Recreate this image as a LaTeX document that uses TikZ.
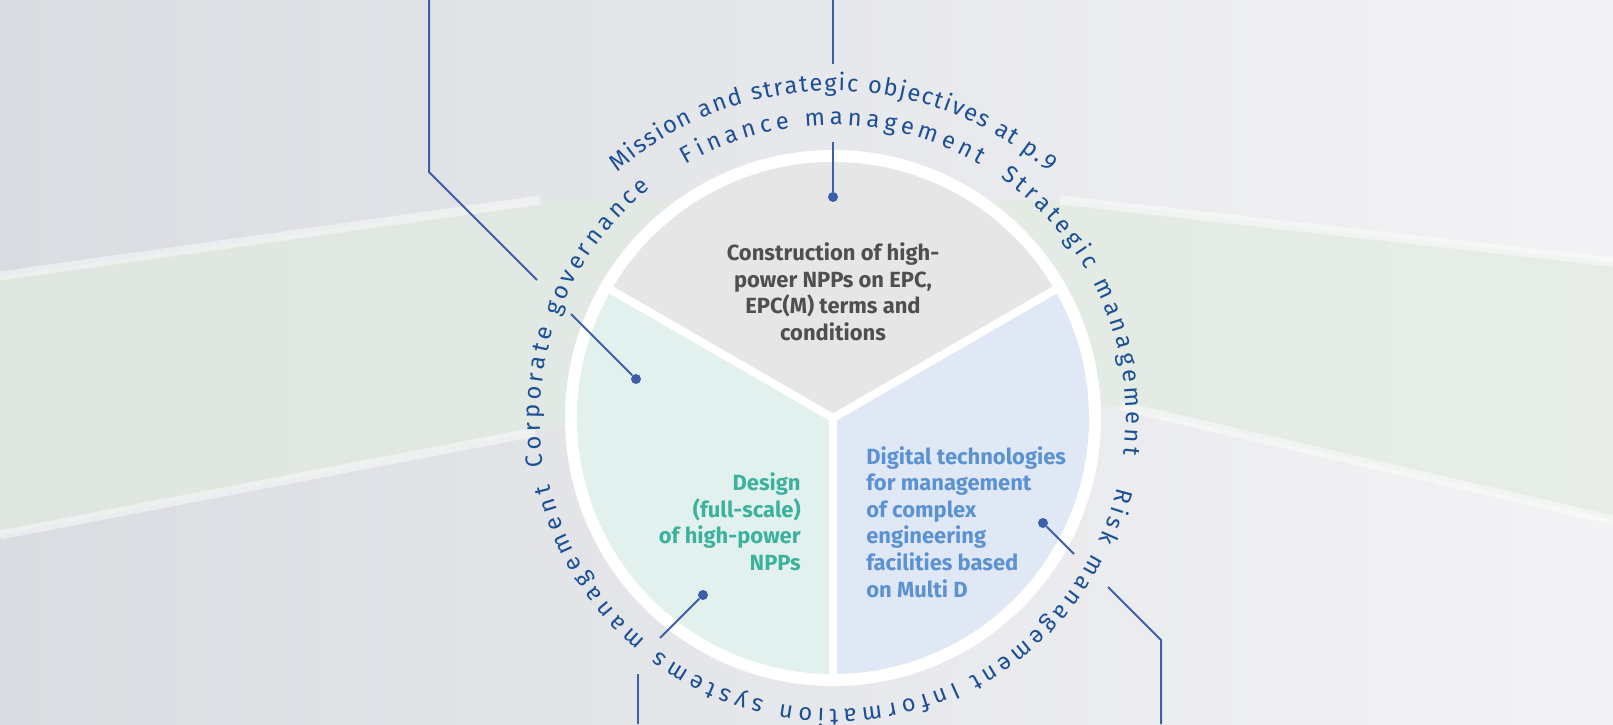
\documentclass[tikz,border=0pt]{standalone}
\usepackage{fontspec}
\setmainfont{Fira Sans}
\newfontfamily\boxfont{Fira Sans}
\newfontfamily\ringfont{Fira Sans}
\usetikzlibrary{decorations.text}

\definecolor{bgleft}{HTML}{DADCE1}
\definecolor{bgright}{HTML}{F3F3F5}
\definecolor{bggreen}{HTML}{E2EBE1}
\definecolor{ringblue}{HTML}{1B4F96}
\definecolor{leadblue}{HTML}{3B5FA8}
\definecolor{secgray}{HTML}{E6E6E6}
\definecolor{secgreen}{HTML}{E3F1EE}
\definecolor{secblue}{HTML}{E0E7F5}
\definecolor{txtgray}{HTML}{4F4F4F}
\definecolor{txtgreen}{HTML}{3CB29C}
\definecolor{txtblue}{HTML}{5A92D2}

\tikzset{
  lead/.style={leadblue, line width=0.04cm},
  dot/.style={circle, fill=leadblue, inner sep=0pt, minimum size=0.2cm},
  boxtext/.style={font=\boxfont\bfseries\fontsize{12.5}{15.1}\selectfont, inner sep=0pt},
  streak/.style={white, opacity=0.45, line width=0.18cm},
  ring/.style 2 args={decorate, decoration={text effects along path, text={#2}, text align=center,
    text effects/.cd, text along path, character widths={inner xsep=#1}}},
}

\begin{document}
\begin{tikzpicture}[x=0.02cm, y=0.02cm]
	\useasboundingbox (0,0) rectangle (1613,724);
	\shade[left color=bgleft, middle color=bgright, right color=bgright] (0,0) rectangle (1613,724);
	\fill[bggreen, opacity=0.7] (0,448) -- (540,524) -- (1060,524) -- (1613,462) -- (1613,204) -- (1121,318) -- (535,292) -- (0,189) -- cycle;
	\draw[streak] (0,448) -- (540,524);
	\draw[streak] (1060,524) -- (1613,462);
	\draw[streak] (0,189) -- (535,292);
	\draw[streak] (1121,318) -- (1613,204);

	\coordinate (ctr) at (833,306);
	\fill[white] (ctr) circle[radius=268];
	\fill[secgray] (ctr) -- ++(30:256) arc[start angle=30, end angle=150, radius=256] -- cycle;
	\fill[secgreen] (ctr) -- ++(150:256) arc[start angle=150, end angle=270, radius=256] -- cycle;
	\fill[secblue] (ctr) -- ++(270:256) arc[start angle=270, end angle=390, radius=256] -- cycle;
	\foreach \a in {30,150,270}
		\draw[white, line width=0.16cm] (ctr) -- ++(\a:262);

	\node[boxtext, txtgray, align=center] (build) at (833,432) {Construction of high-\\power NPPs on EPC,\\EPC(M) terms and\\conditions};
	\node[boxtext, txtgreen, align=right, anchor=east] (design) at (801,202) {Design\\(full-scale)\\of high-power\\NPPs};
	\node[boxtext, txtblue, align=left, anchor=west] (digital) at (866,202) {Digital technologies\\for management\\of complex\\engineering\\facilities based\\on Multi D};

	\begin{scope}[shift={(ctr)}, color=ringblue, font=\ringfont\fontsize{13.5}{16}\selectfont]
		\path[ring={0.45pt}{Mission and strategic objectives at p.9}] (150:327) arc[start angle=150, end angle=30, radius=327];
		\path[ring={1.3pt}{Finance management}] (150:293) arc[start angle=150, end angle=30, radius=293];
		\path[ring={1.15pt}{Strategic management}] (84:293) arc[start angle=84, end angle=-36, radius=293];
		\path[ring={1.15pt}{Risk management}] (22:293) arc[start angle=22, end angle=-98, radius=293];
		\path[ring={1.45pt}{Information systems management}] (-56:291) arc[start angle=-56, end angle=-176, radius=291];
		\path[ring={1.1pt}{Corporate governance}] (219:293) arc[start angle=219, end angle=99, radius=293];
	\end{scope}

	\node[dot] (dtop) at (833,527) {};
	\node[dot] (dleft) at (636,345) {};
	\node[dot] (dlow) at (703,129) {};
	\node[dot] (dright) at (1043,201) {};
	\coordinate (t1) at (833,724);
	\coordinate (t2) at (833,660);
	\coordinate (t3) at (833,582);
	\coordinate (l1) at (429,724);
	\coordinate (l2) at (429,552);
	\coordinate (l3) at (537,444);
	\coordinate (l4) at (571,410);
	\coordinate (b1) at (660,86);
	\coordinate (b2) at (638,50);
	\coordinate (b3) at (638,0);
	\coordinate (r1) at (1074,170);
	\coordinate (r2) at (1108,137);
	\coordinate (r3) at (1161,84);
	\coordinate (r4) at (1161,0);
	\draw[lead] (t1) -- (t2);
	\draw[lead] (t3) -- (dtop);
	\draw[lead] (l1) -- (l2) -- (l3);
	\draw[lead] (l4) -- (dleft);
	\draw[lead] (dlow) -- (b1);
	\draw[lead] (b2) -- (b3);
	\draw[lead] (dright) -- (r1);
	\draw[lead] (r2) -- (r3) -- (r4);
\end{tikzpicture}
\end{document}
